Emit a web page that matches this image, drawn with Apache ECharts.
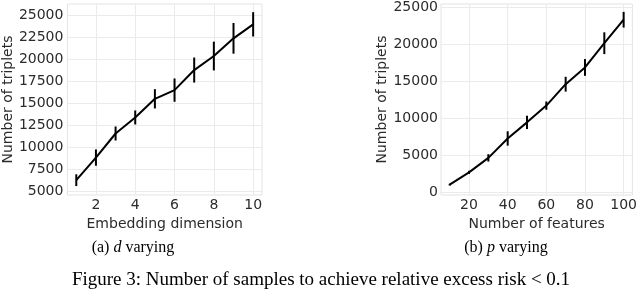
<!DOCTYPE html>
<html>
<head>
<meta charset="utf-8">
<script src="https://cdn.jsdelivr.net/npm/echarts@6/dist/echarts.min.js"></script>
<style>
html,body{margin:0;padding:0;background:#fff;}
#c{width:640px;height:291px;}
</style>
</head>
<body>
<div id="c"></div>
<script>
// ---- data ----
const dims = [1, 2, 3, 4, 5, 6, 7, 8, 9, 10];
const tripletsD = [6220, 8800, 11550, 13380, 15510, 16500, 18790, 20390, 22410, 24010];
const errD = [670, 930, 800, 800, 1100, 1330, 1430, 1640, 1750, 1390];

const features = [10, 20, 30, 40, 50, 60, 70, 80, 90, 100];
const tripletsP = [1040, 2700, 4660, 7280, 9450, 11710, 14600, 16860, 20130, 23300];
const errP = [120, 220, 500, 970, 900, 560, 1000, 1130, 1470, 1060];

const xTicksD = [2, 4, 6, 8, 10];
const yTicksD = [5000, 7500, 10000, 12500, 15000, 17500, 20000, 22500, 25000];
const xTicksP = [20, 40, 60, 80, 100];
const yTicksP = [0, 5000, 10000, 15000, 20000, 25000];

const xLabelD = 'Embedding dimension';
const xLabelP = 'Number of features';
const yLabel = 'Number of triplets';
const captionFig = 'Figure 3: Number of samples to achieve relative excess risk < 0.1';

// ---- styles ----
const tickColor = '#2b2b2b';
const gridColor = '#ebebeb';
const sans = 'DejaVu Sans';
const serif = 'Liberation Serif';

function valueAxis(idx, min, max, ticks, name, gap, labelMargin, isY) {
  return {
    type: 'value',
    gridIndex: idx,
    min: min,
    max: max,
    name: name,
    nameLocation: 'middle',
    nameGap: gap,
    nameRotate: isY ? 90 : 0,
    nameTextStyle: {color: tickColor, fontFamily: sans, fontSize: 14},
    axisLine: {show: false},
    axisTick: {show: false, customValues: ticks},
    axisLabel: {customValues: ticks, color: tickColor, fontFamily: sans, fontSize: 14,
                margin: labelMargin, formatter: v => String(v)},
    splitLine: {show: true, lineStyle: {color: gridColor, width: 1}}
  };
}

function errData(xs, ys, es) {
  return xs.map((x, i) => [x, ys[i] - es[i], ys[i] + es[i]]);
}

function errRender(params, api) {
  const x = api.value(0);
  const p1 = api.coord([x, api.value(1)]);
  const p2 = api.coord([x, api.value(2)]);
  return {type: 'line', shape: {x1: p1[0], y1: p1[1], x2: p2[0], y2: p2[1]},
          style: {stroke: '#000', lineWidth: 2}};
}

const chart = echarts.init(document.getElementById('c'), null, {renderer: 'canvas'});
chart.setOption({
  animation: false,
  backgroundColor: '#fff',
  grid: [
    {left: 66, right: 378, top: 4, bottom: 96, show: true, borderColor: '#e3e3e3', borderWidth: 1, containLabel: false},
    {left: 441, right: 4.5, top: 4, bottom: 96, show: true, borderColor: '#e3e3e3', borderWidth: 1, containLabel: false}
  ],
  xAxis: [
    valueAxis(0, 0.55, 10.45, xTicksD, xLabelD, 15, 3, false),
    valueAxis(1, 5.5, 104.5, xTicksP, xLabelP, 15, 3, false)
  ],
  yAxis: [
    valueAxis(0, 4530, 26330, yTicksD, yLabel, 50, 4, true),
    valueAxis(1, -350, 25420, yTicksP, yLabel, 50, 3, true)
  ],
  series: [
    {type: 'line', xAxisIndex: 0, yAxisIndex: 0, data: dims.map((d, i) => [d, tripletsD[i]]),
     showSymbol: false, symbol: 'none', lineStyle: {color: '#000', width: 2}, z: 3},
    {type: 'custom', xAxisIndex: 0, yAxisIndex: 0, data: errData(dims, tripletsD, errD),
     renderItem: errRender, encode: {x: 0, y: [1, 2]}, z: 4},
    {type: 'line', xAxisIndex: 1, yAxisIndex: 1, data: features.map((d, i) => [d, tripletsP[i]]),
     showSymbol: false, symbol: 'none', lineStyle: {color: '#000', width: 2}, z: 3},
    {type: 'custom', xAxisIndex: 1, yAxisIndex: 1, data: errData(features, tripletsP, errP),
     renderItem: errRender, encode: {x: 0, y: [1, 2]}, z: 4}
  ],
  graphic: [
    {type: 'text', x: 133, y: 248, style: {
      text: '{n|(a) }{i|d}{n| varying}', align: 'center', verticalAlign: 'middle',
      rich: {n: {fontFamily: serif, fontSize: 16, fill: '#000'}, i: {fontFamily: serif, fontStyle: 'italic', fontSize: 16, fill: '#000'}}
    }},
    {type: 'text', x: 506, y: 248, style: {
      text: '{n|(b) }{i|p}{n| varying}', align: 'center', verticalAlign: 'middle',
      rich: {n: {fontFamily: serif, fontSize: 16, fill: '#000'}, i: {fontFamily: serif, fontStyle: 'italic', fontSize: 16, fill: '#000'}}
    }},
    {type: 'text', x: 321, y: 280, style: {
      text: captionFig, align: 'center', verticalAlign: 'middle',
      fontFamily: serif, fontSize: 19, fill: '#000'
    }}
  ]
});
</script>
</body>
</html>
